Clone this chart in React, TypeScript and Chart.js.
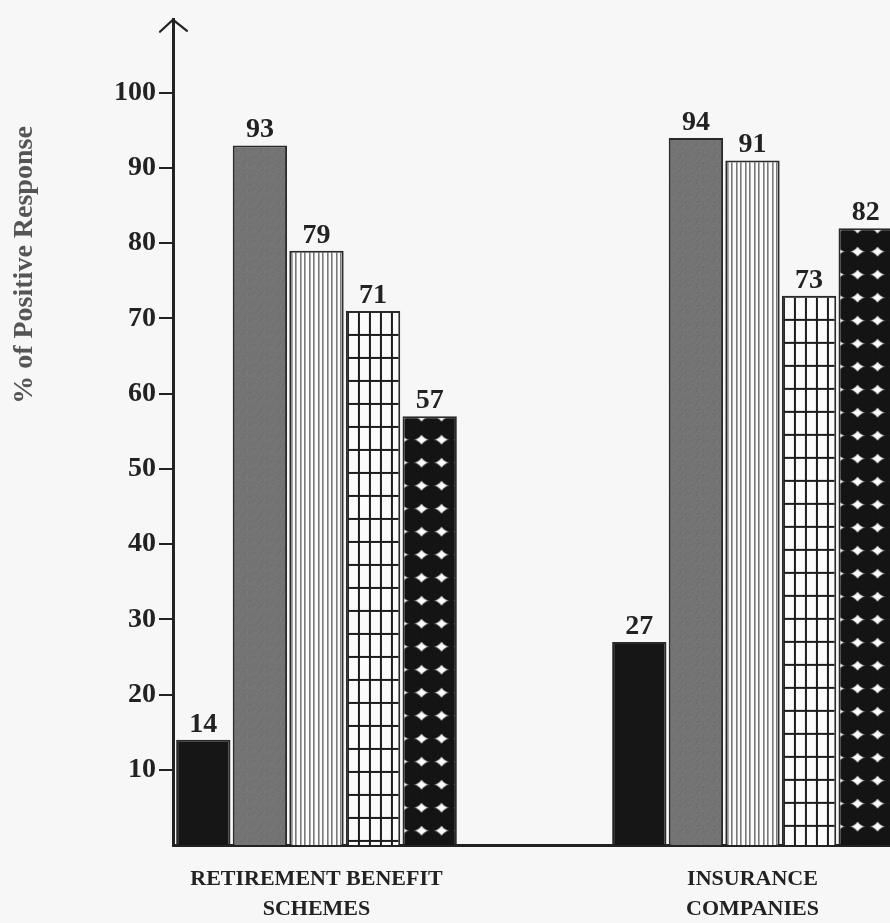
import React, { useEffect, useRef } from 'react';
import { Chart, registerables } from 'chart.js';

Chart.register(...registerables);

// ---- data ----
const categories: string[][] = [
  ['RETIREMENT BENEFIT', 'SCHEMES'],
  ['INSURANCE', 'COMPANIES'],
];
const seriesNames = ['Series 1', 'Series 2', 'Series 3', 'Series 4', 'Series 5'];
const series1 = [14, 27];
const series2 = [93, 94];
const series3 = [79, 91];
const series4 = [71, 73];
const series5 = [57, 82];
const yTicks = [10, 20, 30, 40, 50, 60, 70, 80, 90, 100];
const yTitle = '% of Positive Response';

// ---- layout / style ----
const W = 890;
const H = 923;
const SERIF = '"Liberation Serif", "Times New Roman", serif';
const INK = '#222222';
const X_MIN = -0.3291;
const X_MAX = 1.3154;
const Y_MAX = 109.7;
const CATEGORY_PCT = 0.649;
const BAR_PCT = 0.96;

function makeTile(w: number, h: number, draw: (c: CanvasRenderingContext2D) => void) {
  const cv = document.createElement('canvas');
  cv.width = w;
  cv.height = h;
  const c = cv.getContext('2d')!;
  draw(c);
  return cv;
}

// grainy mid-gray fill
const stippleTile = () =>
  makeTile(17, 13, (c) => {
    for (let i = 0; i < 17; i++) {
      for (let j = 0; j < 13; j++) {
        const h = ((i * 2654435761) ^ (j * 40503) ^ (i * j * 97)) >>> 0;
        const g = 116 + (h % 11) - 5;
        c.fillStyle = `rgb(${g},${g},${g})`;
        c.fillRect(i, j, 1, 1);
      }
    }
  });

// fine vertical hatching
const vLinesTile = () =>
  makeTile(9, 4, (c) => {
    c.fillStyle = '#fbfbfb';
    c.fillRect(0, 0, 9, 4);
    c.fillStyle = '#2b2b2b';
    c.fillRect(0, 0, 1, 4);
    c.fillRect(4, 0, 1, 4);
  });

// square-ish grid
const gridTile = () =>
  makeTile(11, 23, (c) => {
    c.fillStyle = '#fbfbfb';
    c.fillRect(0, 0, 11, 23);
    c.fillStyle = '#1c1c1c';
    c.fillRect(0, 0, 2, 23);
    c.fillRect(0, 0, 11, 2);
  });

// packed black discs leaving white star-shaped gaps
const discTile = () =>
  makeTile(20, 23, (c) => {
    c.fillStyle = '#fbfbfb';
    c.fillRect(0, 0, 20, 23);
    c.fillStyle = '#141414';
    const r = 11.9;
    [
      [0, 0],
      [20, 0],
      [0, 23],
      [20, 23],
    ].forEach(([x, y]) => {
      c.beginPath();
      c.arc(x, y, r, 0, Math.PI * 2);
      c.fill();
    });
  });

// pattern fill whose phase follows the top-left corner of each bar
function anchoredFill(tile: HTMLCanvasElement, dx: number, dy: number, fallback: string) {
  return (ctx: any) => {
    const chart = ctx.chart;
    const xs = chart.scales?.x;
    const ys = chart.scales?.y;
    if (!xs || !ys || ctx.dataIndex === undefined || !ctx.parsed) return fallback;
    const pat = chart.ctx.createPattern(tile, 'repeat');
    if (!pat) return fallback;
    const unit = xs.getPixelForValue(1) - xs.getPixelForValue(0);
    const group = unit * CATEGORY_PCT;
    const slot = group / chart.data.datasets.length;
    const left =
      xs.getPixelForValue(ctx.parsed.x) - group / 2 + ctx.datasetIndex * slot + (slot * (1 - BAR_PCT)) / 2;
    const top = ys.getPixelForValue(ctx.parsed.y);
    pat.setTransform(new DOMMatrix().translate(left + dx, top + dy));
    return pat;
  };
}

const valueLabels = {
  id: 'valueLabels',
  afterDatasetsDraw(chart: any) {
    const ctx = chart.ctx;
    ctx.save();
    ctx.font = `bold 28px ${SERIF}`;
    ctx.fillStyle = INK;
    ctx.textAlign = 'center';
    ctx.textBaseline = 'alphabetic';
    chart.data.datasets.forEach((ds: any, di: number) => {
      const meta = chart.getDatasetMeta(di);
      meta.data.forEach((el: any, i: number) => {
        ctx.fillText(String(ds.data[i].y), el.x, el.y - 8);
      });
    });
    ctx.restore();
  },
};

const axisDecor = {
  id: 'axisDecor',
  afterDraw(chart: any) {
    const { ctx, chartArea } = chart;
    const ax = chart.scales.y.right;
    ctx.save();
    // arrow head on the value axis
    ctx.strokeStyle = INK;
    ctx.lineWidth = 2.2;
    ctx.lineCap = 'round';
    ctx.beginPath();
    ctx.moveTo(ax - 13, chartArea.top + 12);
    ctx.lineTo(ax, chartArea.top);
    ctx.lineTo(ax + 14, chartArea.top + 11);
    ctx.stroke();
    // value axis title
    ctx.translate(32, 265);
    ctx.rotate(-Math.PI / 2);
    ctx.font = `bold 28px ${SERIF}`;
    ctx.fillStyle = '#555555';
    ctx.textAlign = 'center';
    ctx.textBaseline = 'alphabetic';
    ctx.fillText(yTitle, 0, 0);
    ctx.restore();
  },
};

export default function App() {
  const ref = useRef<HTMLCanvasElement | null>(null);

  useEffect(() => {
    if (!ref.current) return;
    const toPoints = (vals: number[]) => vals.map((v, i) => ({ x: i, y: v }));
    const values = [series1, series2, series3, series4, series5];
    const fills = [
      '#161616',
      anchoredFill(stippleTile(), 0, 0, '#747474'),
      anchoredFill(vLinesTile(), 2, 0, '#dddddd'),
      anchoredFill(gridTile(), 1, 0, '#cccccc'),
      anchoredFill(discTile(), 9, 12, '#333333'),
    ];

    const chart = new Chart(ref.current, {
      type: 'bar',
      data: {
        datasets: values.map((vals, i) => ({
          label: seriesNames[i],
          data: toPoints(vals),
          backgroundColor: fills[i] as any,
          borderColor: '#2a2a2a',
          borderWidth: 2,
          categoryPercentage: CATEGORY_PCT,
          barPercentage: BAR_PCT,
        })),
      },
      options: {
        animation: false,
        responsive: false,
        devicePixelRatio: 1,
        layout: { padding: { top: 8, left: 0, right: 0, bottom: 0 } },
        plugins: {
          legend: { display: false },
          title: { display: false },
          tooltip: { enabled: false },
        },
        scales: {
          x: {
            type: 'linear',
            min: X_MIN,
            max: X_MAX,
            bounds: 'data',
            offset: false,
            afterBuildTicks: (s: any) => {
              s.ticks = categories.map((_, i) => ({ value: i }));
            },
            afterFit: (s: any) => {
              s.height = 78;
            },
            ticks: {
              autoSkip: false,
              maxRotation: 0,
              padding: 19,
              color: INK,
              font: { family: SERIF, size: 22, weight: 'bold', lineHeight: 1.38 },
              callback: (_v: any, i: number) => categories[i],
            },
            grid: { display: true, offset: false, drawOnChartArea: false, drawTicks: false },
            border: { display: true, color: INK, width: 3 },
          },
          y: {
            type: 'linear',
            min: 0,
            max: Y_MAX,
            bounds: 'data',
            afterBuildTicks: (s: any) => {
              s.ticks = yTicks.map((v) => ({ value: v }));
            },
            afterFit: (s: any) => {
              s.width = 173;
            },
            ticks: {
              padding: 3,
              color: INK,
              font: { family: SERIF, size: 28, weight: 'bold' },
              callback: (v: any) => String(v),
            },
            grid: { drawOnChartArea: false, drawTicks: true, tickLength: 14, color: INK, lineWidth: 2 },
            border: { display: true, color: INK, width: 3 },
          },
        },
      },
      plugins: [valueLabels, axisDecor],
    });
    return () => chart.destroy();
  }, []);

  return (
    <div
      style={{
        position: 'fixed',
        left: 0,
        top: 0,
        width: W,
        height: H,
        background: '#f7f7f7',
        overflow: 'hidden',
      }}
    >
      <canvas ref={ref} width={W} height={H} style={{ display: 'block', width: W, height: H }} />
    </div>
  );
}
